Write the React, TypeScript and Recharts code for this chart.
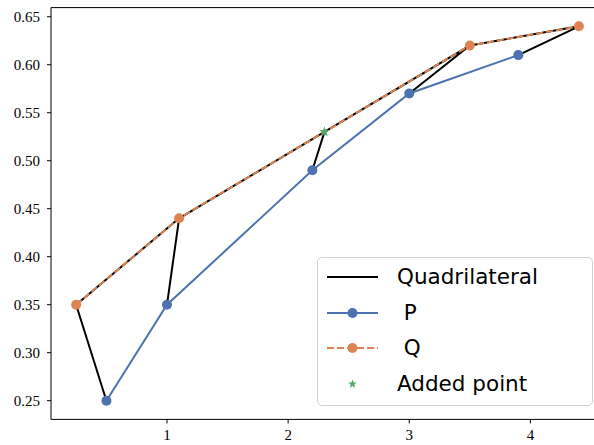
import React from "react";
import {
  ComposedChart,
  Line,
  Scatter,
  XAxis,
  YAxis,
  ReferenceLine,
} from "recharts";

// P curve
const pX = [0.5, 1.0, 2.2, 3.0, 3.9];
const pY = [0.25, 0.35, 0.49, 0.57, 0.61];
// Q curve
const qX = [0.25, 1.1, 3.5, 4.4];
const qY = [0.35, 0.44, 0.62, 0.64];
// point inserted on Q
const addedX = [2.3];
const addedY = [0.53];

const xTicks = [1, 2, 3, 4];
const yTicks = [0.25, 0.3, 0.35, 0.4, 0.45, 0.5, 0.55, 0.6, 0.65];
const xDomain = [0.0425, 4.6075];
const yDomain = [0.2305, 0.6595];

const legendLabels = ["Quadrilateral", " P", " Q", "Added point"];

const COLORS = {
  quad: "#000000",
  p: "#4c72b0",
  q: "#dd8452",
  added: "#55a868",
};

const pData = pX.map((x, i) => ({ x, y: pY[i] }));
const qData = qX.map((x, i) => ({ x, y: qY[i] }));
const addedData = addedX.map((x, i) => ({ x, y: addedY[i] }));

// quadrilateral edges: the Q side (incl. added point) plus the rungs Q_i -> P_i
const qNodes = [...qData, ...addedData].sort((a, b) => a.x - b.x);
const quadData: { x: number; y: number | null }[] = [];
qNodes.forEach((pt) => quadData.push({ x: pt.x, y: pt.y }));
quadData.push({ x: qNodes[qNodes.length - 1].x, y: null });
pData.forEach((p, i) => {
  quadData.push({ x: qNodes[i].x, y: qNodes[i].y });
  quadData.push({ x: p.x, y: p.y });
  quadData.push({ x: p.x, y: null });
});

function starPath(cx: number, cy: number, outer: number, inner: number) {
  let d = "";
  for (let k = 0; k < 10; k++) {
    const r = k % 2 === 0 ? outer : inner;
    const a = -Math.PI / 2 + (k * Math.PI) / 5;
    d += (k === 0 ? "M" : "L") + (cx + r * Math.cos(a)).toFixed(2) + "," + (cy + r * Math.sin(a)).toFixed(2);
  }
  return d + "Z";
}

const Star = (props: any) => (
  <path d={starPath(props.cx, props.cy, 5.5, 2.3)} fill={COLORS.added} />
);

function LegendBox() {
  const rowH = 35.5;
  const handle = (i: number) => {
    const y = 10;
    if (i === 0) return <line x1={0} x2={51} y1={y} y2={y} stroke={COLORS.quad} strokeWidth={2} />;
    if (i === 1)
      return (
        <g>
          <line x1={0} x2={51} y1={y} y2={y} stroke={COLORS.p} strokeWidth={2} />
          <circle cx={25.5} cy={y} r={5} fill={COLORS.p} />
        </g>
      );
    if (i === 2)
      return (
        <g>
          <line x1={0} x2={51} y1={y} y2={y} stroke={COLORS.q} strokeWidth={2} strokeDasharray="7 3" />
          <circle cx={25.5} cy={y} r={5} fill={COLORS.q} />
        </g>
      );
    return <path d={starPath(25.5, y, 4.5, 1.9)} fill={COLORS.added} />;
  };
  return (
    <div
      style={{
        position: "absolute",
        left: 317,
        top: 257,
        width: 276,
        height: 149,
        boxSizing: "border-box",
        border: "1px solid #d0d0d0",
        borderRadius: 5,
        background: "rgba(255,255,255,0.8)",
      }}
    >
      {legendLabels.map((label, i) => (
        <div
          key={label}
          style={{
            position: "absolute",
            left: 9,
            top: 9 + i * rowH,
            height: 20,
            display: "flex",
            alignItems: "center",
          }}
        >
          <svg width={51} height={20} style={{ overflow: "visible" }}>
            {handle(i)}
          </svg>
          <span
            style={{
              marginLeft: 19,
              fontFamily: "DejaVu Sans",
              fontSize: 21.5,
              color: "#000",
              whiteSpace: "pre",
              lineHeight: "20px",
            }}
          >
            {label}
          </span>
        </div>
      ))}
    </div>
  );
}

const tickStyle = { fill: "#000", fontSize: 15, fontFamily: "Liberation Serif" };

export default function App() {
  return (
    <div style={{ position: "fixed", left: 0, top: 0, width: 594, height: 445, overflow: "hidden", background: "#fff" }}>
      <ComposedChart width={612} height={445} margin={{ top: 7.6, right: 8, bottom: 0, left: 0 }}>
        <XAxis
          type="number"
          dataKey="x"
          domain={xDomain}
          ticks={xTicks}
          allowDataOverflow
          height={25.6}
          tick={tickStyle}
          tickSize={4}
          tickMargin={6}
          stroke="#000"
          tickLine={{ stroke: "#000" }}
        />
        <YAxis
          type="number"
          dataKey="y"
          domain={yDomain}
          ticks={yTicks}
          allowDataOverflow
          width={51}
          tick={tickStyle}
          tickFormatter={(v: number) => v.toFixed(2)}
          tickSize={4}
          tickMargin={7}
          stroke="#000"
          tickLine={{ stroke: "#000" }}
        />
        {/* top spine */}
        <ReferenceLine y={yDomain[1]} stroke="#000" strokeWidth={1} ifOverflow="extendDomain" />
        <Line
          data={quadData}
          dataKey="y"
          type="linear"
          stroke={COLORS.quad}
          strokeWidth={2}
          dot={false}
          activeDot={false}
          connectNulls={false}
          isAnimationActive={false}
        />
        <Line
          data={pData}
          dataKey="y"
          type="linear"
          stroke={COLORS.p}
          strokeWidth={2}
          dot={{ r: 5, fill: COLORS.p, stroke: COLORS.p, strokeWidth: 0 }}
          activeDot={false}
          isAnimationActive={false}
        />
        <Line
          data={qData}
          dataKey="y"
          type="linear"
          stroke={COLORS.q}
          strokeWidth={2}
          strokeDasharray="7 3"
          dot={{ r: 5, fill: COLORS.q, stroke: COLORS.q, strokeWidth: 0, strokeDasharray: "" }}
          activeDot={false}
          isAnimationActive={false}
        />
        <Scatter data={addedData} dataKey="y" shape={Star} isAnimationActive={false} />
      </ComposedChart>
      <LegendBox />
    </div>
  );
}
